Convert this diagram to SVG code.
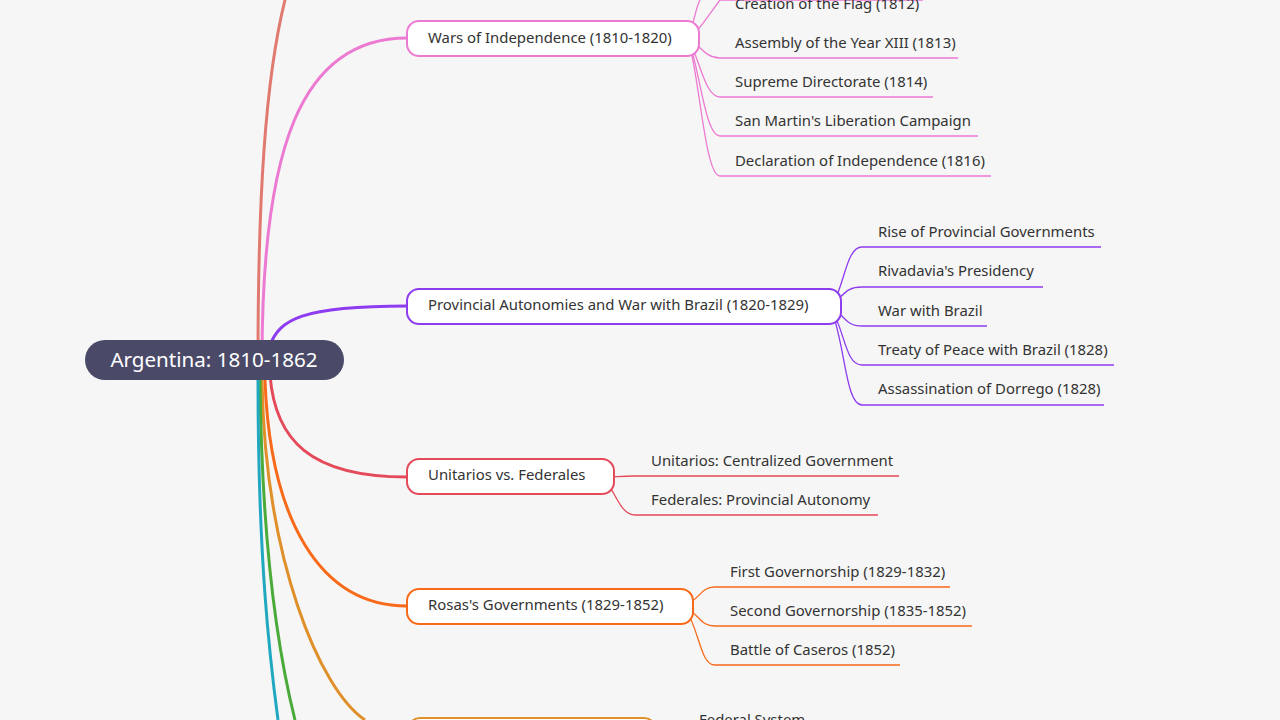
<svg xmlns="http://www.w3.org/2000/svg" width="1280" height="720" viewBox="0 0 1280 720">
<style>
text{font-family:"Noto Sans","Open Sans",sans-serif;font-size:14.9px;fill:#333}
.b{fill:#fff;stroke-width:2}
.c{fill:none;stroke-width:3}
.l{fill:none;stroke-width:1.3}
</style>
<rect width="1280" height="720" fill="#f6f6f6"/>
<g id="connectors">
<path class="c" stroke="#e07a70" d="M258 360 C258 200 265 80 285 0"/>
<path class="c" stroke="#ec7ad2" d="M262 360 C262 150 300 38 407 38"/>
<path class="c" stroke="#8d3cf0" d="M270 345 C280 320 300 306 407 306"/>
<path class="c" stroke="#e44a5a" d="M270 375 C275 440 310 477 407 477"/>
<path class="c" stroke="#f86a1a" d="M265 380 C270 520 320 606 407 606"/>
<path class="c" stroke="#e0902a" d="M262 380 C265 560 320 690 365 720"/>
<path class="c" stroke="#4aaa3a" d="M260 380 C262 560 280 660 295 720"/>
<path class="c" stroke="#20a8c0" d="M258 380 C258 560 270 660 278 720"/>
<g stroke="#ec7ad2" class="l">
<path d="M688 38 C700 30 705 20 720 0 L923 0"/>
<path d="M688 38 C700 45 705 58 720 58 L958 58"/>
<path d="M688 38 C700 60 705 97 720 97 L933 97"/>
<path d="M688 38 C700 70 705 136 720 136 L978 136"/>
<path d="M688 38 C700 80 705 176 720 176 L991 176"/>
<path d="M688 38 C695 20 695 10 700 0"/>
</g>
<g stroke="#8d3cf0" class="l">
<path d="M830 306 C845 290 845 247 862 247 L1101 247"/>
<path d="M830 306 C845 295 845 287 862 287 L1043 287"/>
<path d="M830 306 C845 315 845 326 862 326 L987 326"/>
<path d="M830 306 C845 330 845 365 862 365 L1114 365"/>
<path d="M830 306 C845 340 845 405 862 405 L1104 405"/>
</g>
<g stroke="#e44a5a" class="l">
<path d="M603 477 C615 477 620 476 635 476 L899 476"/>
<path d="M603 477 C615 490 620 515 635 515 L878 515"/>
</g>
<g stroke="#f86a1a" class="l">
<path d="M684 606 C700 600 700 587 715 587 L950 587"/>
<path d="M684 606 C700 615 700 626 715 626 L972 626"/>
<path d="M684 606 C700 630 700 665 715 665 L900 665"/>
</g>
</g>
<g id="root"><rect x="85" y="340" width="259" height="40" rx="20" fill="#4a4a68"/><text x="214" y="367" text-anchor="middle" style="font-size:20.6px;fill:#fff">Argentina: 1810-1862</text></g>
<g id="n1"><rect class="b" stroke="#ec7ad2" x="407" y="21" width="292" height="35" rx="12"/><text x="428" y="43">Wars of Independence (1810-1820)</text></g>
<g id="n1l"><text x="735" y="9">Creation of the Flag (1812)</text><text x="735" y="48">Assembly of the Year XIII (1813)</text><text x="735" y="87">Supreme Directorate (1814)</text><text x="735" y="126">San Martin's Liberation Campaign</text><text x="735" y="166">Declaration of Independence (1816)</text></g>
<g id="n2"><rect class="b" stroke="#8d3cf0" x="407" y="289" width="434" height="35" rx="12"/><text x="428" y="310">Provincial Autonomies and War with Brazil (1820-1829)</text></g>
<g id="n2l"><text x="878" y="237">Rise of Provincial Governments</text><text x="878" y="276">Rivadavia's Presidency</text><text x="878" y="316">War with Brazil</text><text x="878" y="355">Treaty of Peace with Brazil (1828)</text><text x="878" y="394">Assassination of Dorrego (1828)</text></g>
<g id="n3"><rect class="b" stroke="#e44a5a" x="407" y="459" width="207" height="35" rx="12"/><text x="428" y="480">Unitarios vs. Federales</text></g>
<g id="n3l"><text x="651" y="466">Unitarios: Centralized Government</text><text x="651" y="505">Federales: Provincial Autonomy</text></g>
<g id="n4"><rect class="b" stroke="#f86a1a" x="407" y="589" width="286" height="35" rx="12"/><text x="428" y="610">Rosas's Governments (1829-1852)</text></g>
<g id="n4l"><text x="730" y="577">First Governorship (1829-1832)</text><text x="730" y="616">Second Governorship (1835-1852)</text><text x="730" y="655">Battle of Caseros (1852)</text></g>
<g id="n5"><rect class="b" stroke="#e0902a" x="408" y="718" width="248" height="35" rx="12"/><text x="699" y="725">Federal System</text></g>
</svg>
